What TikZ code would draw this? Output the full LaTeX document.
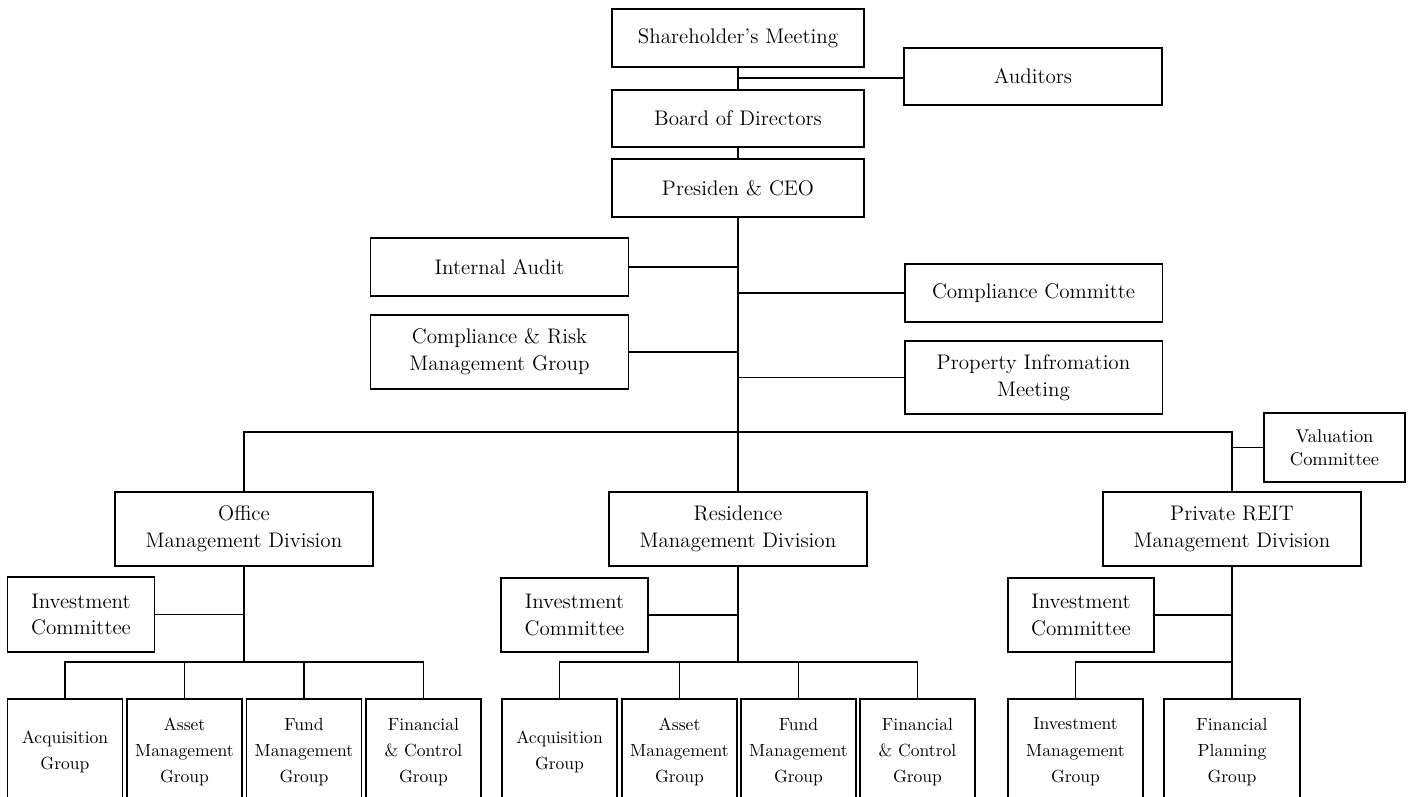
\documentclass[tikz,border=0pt]{standalone}
\usetikzlibrary{positioning}
\usetikzlibrary{calc}

\begin{document}
\begin{tikzpicture}[
    x=0.02cm, y=-0.02cm,
    unitbox/.style={
        rectangle,
        draw,
        line width=1.1pt,
        align=center,
        inner sep=2pt,
        font=\fontsize{12}{15.3}\selectfont,
        },
    widebox/.style={
        unitbox,
        minimum width=5.16cm,
        minimum height=1.16cm,
        },
    divbox/.style={
        unitbox,
        minimum width=5.16cm,
        minimum height=1.48cm,
        },
    cttbox/.style={
        unitbox,
        minimum width=2.94cm,
        minimum height=1.48cm,
        },
    groupbox/.style={
        unitbox,
        anchor=north,
        minimum width=2.3cm,
        minimum height=2.12cm,
        font=\fontsize{10}{15}\selectfont,
        },
    link/.style={
        line width=1.1pt,
        },
    ]

    \useasboundingbox (0,0) rectangle (1413,796);
    \clip (0,0) rectangle (1413,796);

    % top of the chart
    \node [widebox, minimum width=5.04cm] (sm) at (738,38) {Shareholder's Meeting};
    \node [widebox, minimum height=1.14cm] (aud) at (1033,76.5) {Auditors};
    \node [widebox, minimum width=5.04cm, minimum height=1.14cm] (bod) at (738,118.5) {Board of Directors};
    \node [widebox, minimum width=5.04cm] (ceo) at (738,188) {Presiden \& CEO};

    \node [widebox] (ia) at (499.5,267) {Internal Audit};
    \node [divbox] (crm) at (499.5,352) {Compliance \& Risk\\Management Group};
    \node [widebox] (cc) at (1033.5,293) {Compliance Committe};
    \node [divbox, minimum height=1.46cm] (pim) at (1033.5,377.5) {Property Infromation\\Meeting};

    % divisions
    \node [divbox] (omd) at (244,529) {Office\\Management Division};
    \node [divbox] (rmd) at (738,529) {Residence\\Management Division};
    \node [divbox] (pmd) at (1232,529) {Private REIT\\Management Division};
    \node [unitbox, minimum width=2.82cm, minimum height=1.38cm,
        font=\fontsize{10.5}{13}\selectfont] (vc) at (1334.5,447.5) {Valuation\\Committee};

    \node [cttbox, minimum height=1.5cm] (ic1) at (81,614.5) {Investment\\Committee};
    \node [cttbox] (ic2) at (574.5,615) {Investment\\Committee};
    \node [cttbox, minimum width=2.92cm] (ic3) at (1081,615) {Investment\\Committee};

    % groups
    \node [groupbox] (og1) at (65,698) {Acquisition\\Group};
    \node [groupbox] (og2) at (184.5,698) {Asset\\Management\\Group};
    \node [groupbox] (og3) at (304,698) {Fund\\Management\\Group};
    \node [groupbox] (og4) at (423.5,698) {Financial\\\& Control\\Group};

    \node [groupbox] (rg1) at (559.5,698) {Acquisition\\Group};
    \node [groupbox] (rg2) at (679.5,698) {Asset\\Management\\Group};
    \node [groupbox] (rg3) at (798.5,698) {Fund\\Management\\Group};
    \node [groupbox] (rg4) at (917.5,698) {Financial\\\& Control\\Group};

    \node [groupbox, minimum width=2.7cm] (pg1) at (1075.5,698) {Investment\\Management\\Group};
    \node [groupbox, minimum width=2.72cm] (pg2) at (1232,698) {Financial\\Planning\\Group};

    \coordinate (bus) at (738,432);
    \coordinate (obus) at (244,662);
    \coordinate (rbus) at (738,662);
    \coordinate (pbus) at (1232,662);

    \draw [link] (sm) -- (bod);
    \draw [link] (bod) -- (ceo);
    \draw [link] (ceo) -- (rmd);
    \draw [link] (aud.west |- 0,78) -- (sm.south |- 0,78);

    \draw [link] (ia.east) -- (ia.east -| ceo.south);
    \draw [link] (crm.east) -- (crm.east -| ceo.south);
    \draw [link] (cc.west) -- (cc.west -| ceo.south);
    \draw [link] (pim.west) -- (pim.west -| ceo.south);

    \draw [link] (omd.north) |- (bus) -| (pmd.north);
    \draw [link] (vc.west) -- (vc.west -| pmd.north);

    \draw [link] (ic1.east) -- (ic1.east -| omd.south);
    \draw [link] (ic2.east) -- (ic2.east -| rmd.south);
    \draw [link] (ic3.east) -- (ic3.east -| pmd.south);

    \draw [link] (omd.south) -- (obus);
    \draw [link] (og1.north) |- (obus) -| (og4.north);
    \draw [link] (og2.north) -- (og2.north |- obus);
    \draw [link] (og3.north) -- (og3.north |- obus);

    \draw [link] (rmd.south) -- (rbus);
    \draw [link] (rg1.north) |- (rbus) -| (rg4.north);
    \draw [link] (rg2.north) -- (rg2.north |- rbus);
    \draw [link] (rg3.north) -- (rg3.north |- rbus);

    \draw [link] (pmd.south) -- (pg2.north);
    \draw [link] (pg1.north) |- (pbus);

\end{tikzpicture}
\end{document}
